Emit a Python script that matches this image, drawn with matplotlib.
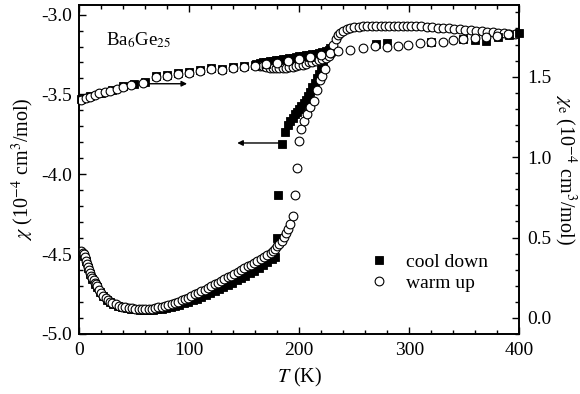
import matplotlib
matplotlib.use("Agg")
import matplotlib.pyplot as plt
from matplotlib.lines import Line2D
from matplotlib.ticker import MultipleLocator

plt.rcParams["font.family"] = ["Liberation Serif", "DejaVu Serif"]
plt.rcParams["mathtext.fontset"] = "stix"
plt.rcParams["axes.unicode_minus"] = False

# --- chi (left axis), warm up (open circles) ---
T_warm = [2, 3, 4, 5, 6, 7, 8, 9, 10, 11, 12, 13, 14, 15, 16, 18, 20, 22, 24, 26, 28, 30,
          33, 36, 39, 42, 45, 48, 51, 54, 57, 60, 63, 66, 69, 72, 75, 78, 81, 84, 87, 90,
          93, 96, 99, 102, 105, 108, 111, 114, 117, 120, 123, 126, 129, 132, 135, 138, 141,
          144, 147, 150, 153, 156, 159, 162, 165, 168, 171, 174, 176, 178, 180, 182, 184,
          186, 188, 190, 192, 194, 196, 198, 200, 202, 204, 207, 210, 213, 216, 219, 221, 223,
          164, 167, 170, 173, 176, 179, 182, 185, 188, 191, 194, 197, 200, 203, 206, 209,
          212, 215, 218, 221, 224, 227,
          229, 231, 233, 235, 237, 240, 243, 246, 250, 254, 258, 262, 266, 270, 274, 278,
          282, 286, 290, 294, 298, 302, 306, 311, 316, 321, 326, 331, 336, 341, 346, 351,
          356, 361, 366, 371, 376, 381, 386, 391, 396]
chi_warm = [-4.48, -4.49, -4.50, -4.52, -4.54, -4.56, -4.58, -4.60, -4.62, -4.635, -4.65,
            -4.665, -4.68, -4.69, -4.70, -4.725, -4.745, -4.76, -4.775, -4.79, -4.80, -4.805,
            -4.815, -4.822, -4.828, -4.832, -4.836, -4.839, -4.841, -4.843, -4.844, -4.844,
            -4.843, -4.841, -4.838, -4.834, -4.83, -4.825, -4.82, -4.813, -4.806, -4.798,
            -4.79, -4.781, -4.772, -4.762, -4.752, -4.742, -4.732, -4.722, -4.711, -4.70,
            -4.689, -4.678, -4.667, -4.656, -4.645, -4.634, -4.623, -4.612, -4.60, -4.589,
            -4.577, -4.565, -4.553, -4.541, -4.529, -4.516, -4.503, -4.49, -4.478, -4.466,
            -4.452, -4.435, -4.415, -4.39, -4.365, -4.34, -4.31, -4.26, -4.13, -3.96, -3.79,
            -3.715, -3.665, -3.62, -3.58, -3.54, -3.47, -3.41, -3.385, -3.34,
            -3.32, -3.325, -3.33, -3.333, -3.335, -3.337, -3.337, -3.336, -3.334, -3.33,
            -3.326, -3.322, -3.318, -3.313, -3.307, -3.30, -3.295, -3.29, -3.285, -3.28,
            -3.27, -3.26,
            -3.24, -3.19, -3.155, -3.13, -3.115, -3.10, -3.092, -3.086, -3.08, -3.076,
            -3.073, -3.071, -3.07, -3.07, -3.07, -3.07, -3.07, -3.07, -3.07, -3.07, -3.07,
            -3.071, -3.072, -3.074, -3.076, -3.078, -3.081, -3.084, -3.087, -3.09, -3.093,
            -3.096, -3.099, -3.102, -3.105, -3.108, -3.111, -3.114, -3.117, -3.12, -3.123]

# --- chi (left axis), cool down (filled squares) ---
T_cool = [2, 4, 6, 8, 10, 12, 14, 16, 19, 22, 25, 28, 31, 35, 39, 43, 47, 51, 55, 59, 63,
          67, 71, 75, 79, 83, 87, 91, 95, 99, 103, 107, 111, 115, 119, 123, 127, 131, 135,
          139, 143, 147, 151, 155, 159, 163, 167, 171, 175, 178, 180, 181, 184,
          187, 190, 192, 194, 196, 198, 200, 202, 204, 206, 208, 210, 212, 214, 216, 218,
          220, 222,
          161, 164, 167, 170, 173, 176, 179, 182, 185, 188, 191, 194, 197, 200, 203, 206,
          209, 212, 215, 218, 221, 224, 227, 228]
chi_cool = [-4.49, -4.51, -4.545, -4.585, -4.625, -4.655, -4.685, -4.705, -4.74, -4.765,
            -4.785, -4.80, -4.812, -4.823, -4.831, -4.837, -4.842, -4.845, -4.847, -4.848,
            -4.848, -4.847, -4.845, -4.843, -4.84, -4.834, -4.826, -4.818, -4.809, -4.80,
            -4.79, -4.78, -4.769, -4.757, -4.745, -4.732, -4.719, -4.706, -4.692, -4.678,
            -4.664, -4.649, -4.634, -4.619, -4.603, -4.587, -4.57, -4.552, -4.533, -4.515,
            -4.40, -4.13, -3.81,
            -3.736, -3.69, -3.665, -3.645, -3.625, -3.607, -3.59, -3.572, -3.553, -3.532,
            -3.51, -3.485, -3.455, -3.43, -3.40, -3.37, -3.34, -3.31,
            -3.308, -3.305, -3.30, -3.296, -3.292, -3.288, -3.285, -3.282, -3.279, -3.277,
            -3.274, -3.27, -3.266, -3.262, -3.258, -3.254, -3.25, -3.247, -3.244, -3.24,
            -3.235, -3.228, -3.22, -3.21]

# --- chi_e (right axis) ---
T_e_warm = [2, 6, 10, 14, 18, 23, 28, 34, 40, 47, 58, 70, 80, 90, 100, 110, 120, 130, 140,
            150, 160, 170, 180, 190, 200, 210, 220, 228, 235, 246, 258, 269, 280, 290, 299,
            310, 320, 331, 340, 349, 360, 370, 380, 390]
chi_e_warm = [1.357, 1.366, 1.376, 1.386, 1.396, 1.405, 1.412, 1.422, 1.436, 1.448, 1.464,
              1.497, 1.506, 1.516, 1.526, 1.537, 1.551, 1.543, 1.554, 1.56, 1.568, 1.578,
              1.588, 1.598, 1.61, 1.62, 1.635, 1.648, 1.657, 1.668, 1.678, 1.688, 1.682,
              1.692, 1.699, 1.709, 1.713, 1.719, 1.73, 1.734, 1.74, 1.748, 1.756, 1.763]
T_e_cool = [2, 10, 20, 30, 40, 50, 60, 70, 80, 90, 100, 110, 120, 130, 140, 150, 160, 170,
            180, 190, 200, 210, 220, 270, 280, 320, 349, 360, 370, 381, 391, 400]
chi_e_cool = [1.361, 1.379, 1.399, 1.416, 1.441, 1.455, 1.47, 1.502, 1.511, 1.521, 1.531,
              1.542, 1.556, 1.548, 1.559, 1.564, 1.572, 1.582, 1.592, 1.602, 1.614, 1.624,
              1.639, 1.703, 1.709, 1.713, 1.734, 1.73, 1.725, 1.746, 1.761, 1.771]

FS = 14
sq = dict(ls="none", marker="s", ms=5.2, mfc="black", mec="black", mew=0.6)
ci = dict(ls="none", marker="o", ms=6.3, mfc="white", mec="black", mew=0.8)

fig = plt.figure(figsize=(5.8, 3.94), dpi=100)
ax = fig.add_axes([0.1367, 0.1523, 0.7586, 0.835])
ax.plot(T_cool, chi_cool, **sq, zorder=2)
ax.plot(T_warm, chi_warm, **ci, zorder=3)
ax.set_xlim(0, 400)
ax.set_ylim(-5.0, -2.94)

ax2 = ax.twinx()
ax2.plot(T_e_cool, chi_e_cool, **sq, zorder=2, clip_on=False)
ax2.plot(T_e_warm, chi_e_warm, **ci, zorder=3)
ax2.set_ylim(-0.1, 1.946)

for a in (ax, ax2):
    for s in a.spines.values():
        s.set_linewidth(1.2)
ax.xaxis.set_major_locator(MultipleLocator(100))
ax.xaxis.set_minor_locator(MultipleLocator(20))
ax.yaxis.set_major_locator(MultipleLocator(0.5))
ax.yaxis.set_minor_locator(MultipleLocator(0.1))
ax.yaxis.set_major_formatter(lambda v, p: f"{v:.1f}")
ax2.yaxis.set_major_locator(MultipleLocator(0.5))
ax2.yaxis.set_minor_locator(MultipleLocator(0.1))
ax2.yaxis.set_major_formatter(lambda v, p: f"{v:.1f}")

ax.tick_params(which="both", direction="in", top=True, right=False, labelsize=FS, width=1.0)
ax.tick_params(which="major", length=5)
ax.tick_params(which="minor", length=3)
ax.tick_params(axis="x", pad=6)
ax.tick_params(axis="y", pad=5)
ax2.tick_params(which="both", direction="in", labelsize=FS, width=1.0, pad=6)
ax2.tick_params(which="major", length=5)
ax2.tick_params(which="minor", length=3)

ax.set_xlabel(r"$T$ (K)", fontsize=FS + 0.5, labelpad=5)
ax.set_ylabel(r"$\chi$ (10$^{-4}$ cm$^3$/mol)", fontsize=FS + 0.5, labelpad=4)
ax2.set_ylabel(r"$\chi_{\rm e}$ (10$^{-4}$ cm$^3$/mol)", fontsize=FS + 0.5,
               rotation=270, labelpad=19)

ax.text(24, -3.19, r"Ba$_6$Ge$_{25}$", fontsize=FS - 0.5, va="baseline", ha="left")

arrow = dict(arrowstyle="-|>", color="black", lw=1.0, mutation_scale=8, shrinkA=0, shrinkB=0)
ax.annotate("", xy=(98, -3.433), xytext=(61, -3.433), arrowprops=arrow)
ax.annotate("", xy=(143.6, -3.804), xytext=(182, -3.804), arrowprops=arrow)

handles = [Line2D([], [], **sq), Line2D([], [], **ci)]
ax.legend(handles, ["cool down", "warm up"], loc="upper left",
          bbox_to_anchor=(0.661, 0.246), frameon=False, fontsize=FS,
          handlelength=0.95, handletextpad=0.9, labelspacing=0.2,
          borderpad=0, borderaxespad=0)

fig.savefig("out.png", dpi=100)
